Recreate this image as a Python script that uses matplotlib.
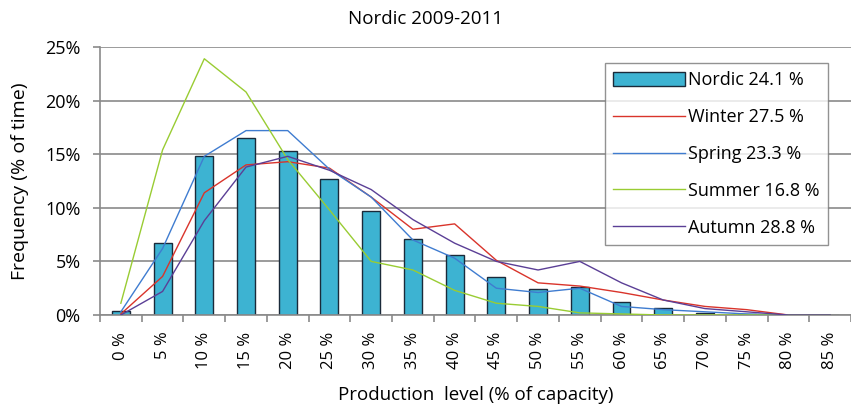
import matplotlib.pyplot as plt
import numpy as np
from matplotlib.ticker import FuncFormatter

plt.rcParams['font.family'] = ['Open Sans', 'DejaVu Sans']

levels = ['0 %', '5 %', '10 %', '15 %', '20 %', '25 %', '30 %', '35 %', '40 %',
          '45 %', '50 %', '55 %', '60 %', '65 %', '70 %', '75 %', '80 %', '85 %']

nordic = [0.4, 6.7, 14.8, 16.5, 15.3, 12.7, 9.7, 7.1, 5.6,
          3.5, 2.4, 2.6, 1.2, 0.7, 0.2, 0.1, 0.0, 0.0]
winter = [0.1, 3.6, 11.4, 14.0, 14.3, 13.7, 11.0, 8.0, 8.5,
          5.1, 3.0, 2.7, 2.1, 1.4, 0.8, 0.5, 0.0, 0.0]
spring = [0.3, 6.2, 14.8, 17.2, 17.2, 13.6, 11.0, 7.0, 5.3,
          2.5, 2.1, 2.5, 0.8, 0.5, 0.3, 0.1, 0.0, 0.0]
summer = [1.1, 15.4, 23.9, 20.8, 14.5, 9.8, 5.0, 4.2, 2.3,
          1.1, 0.8, 0.2, 0.1, 0.0, 0.0, 0.0, 0.0, 0.0]
autumn = [0.0, 2.2, 8.8, 13.8, 14.8, 13.5, 11.7, 8.9, 6.7,
          5.0, 4.2, 5.0, 3.0, 1.4, 0.6, 0.3, 0.0, 0.0]

labels = ['Nordic 24.1 %', 'Winter 27.5 %', 'Spring 23.3 %',
          'Summer 16.8 %', 'Autumn 28.8 %']

fig = plt.figure(figsize=(8.51, 4.12), dpi=100)
ax = fig.add_axes([0.1175, 0.2354, 0.8825, 0.6506])

x = np.arange(len(levels))
bars = ax.bar(x, nordic, width=0.43, color='#3DB3D2', edgecolor='#1a2a3a',
              linewidth=1.0, zorder=2)
lw, = ax.plot(x, winter, color='#D9342B', lw=1.0, zorder=3)
lsp, = ax.plot(x, spring, color='#3F7CD0', lw=1.0, zorder=3)
lsu, = ax.plot(x, summer, color='#99CC33', lw=1.0, zorder=3)
la, = ax.plot(x, autumn, color='#5B3F96', lw=1.0, zorder=3)

ax.set_xlim(-0.5, len(levels) - 0.5)
ax.set_ylim(0, 25)
ax.set_yticks([0, 5, 10, 15, 20, 25])
ax.yaxis.set_major_formatter(FuncFormatter(lambda v, p: '%d%%' % v))
ax.grid(axis='y', color='#8a8a8a', lw=1.2, zorder=0)

ax.set_xticks(x)
ax.set_xticklabels(levels, rotation=90, fontsize=12)
ax.set_xticks(np.arange(-0.5, len(levels), 1.0), minor=True)
ax.tick_params(axis='x', which='major', length=0, pad=12)
ax.tick_params(axis='x', which='minor', length=5, color='#8a8a8a', width=1.2)
ax.tick_params(axis='y', length=5, color='#8a8a8a', width=1.2, labelsize=13, pad=9)

for s in ['top', 'right']:
    ax.spines[s].set_visible(False)
for s in ['left', 'bottom']:
    ax.spines[s].set_color('#8a8a8a')
    ax.spines[s].set_linewidth(1.2)

ax.set_ylabel('Frequency (% of time)', fontsize=14, labelpad=12)
ax.set_xlabel('Production  level (% of capacity)', fontsize=13.5, labelpad=12)
fig.suptitle('Nordic 2009-2011', fontsize=13.5, y=0.975)

leg = ax.legend([bars, lw, lsp, lsu, la], labels, loc='upper right',
                bbox_to_anchor=(0.969, 0.94), fontsize=13,
                frameon=True, fancybox=False, handlelength=4.0, handleheight=0.8,
                labelspacing=1.05, borderpad=0.45, handletextpad=0.15,
                borderaxespad=0)
leg.get_frame().set_edgecolor('#777777')
leg.get_frame().set_linewidth(1.0)

fig.savefig('out.png', dpi=100)
